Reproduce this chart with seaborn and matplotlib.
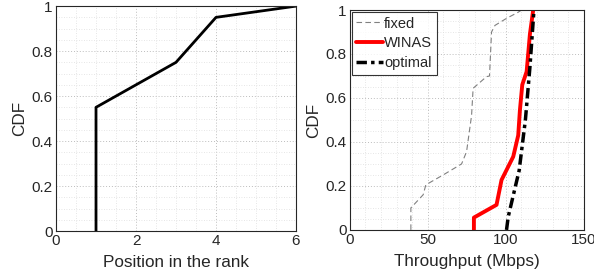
import numpy as np
import pandas as pd
import matplotlib
matplotlib.use("Agg")
import matplotlib.pyplot as plt
import seaborn as sns
from matplotlib.ticker import MultipleLocator, FuncFormatter

# left panel: position in the rank
rank_pos = [1, 1, 3, 4, 6]
rank_cdf = [0, 0.55, 0.75, 0.95, 1.0]

# right panel: throughput CDFs (Mbps)
fixed_tp = [39.1, 39.1, 47, 48.7, 59.8, 71.6, 74.8, 78, 79, 87.6, 89.5, 90.8, 93, 100.4, 107.9, 110]
fixed_cdf = [0, 0.10, 0.16, 0.205, 0.25, 0.30, 0.356, 0.52, 0.644, 0.697, 0.70, 0.90, 0.93, 0.962, 0.99, 1.0]
winas_tp = [79.5, 79.5, 94, 97.2, 104.7, 107.9, 109, 110.5, 113.3, 115.4, 117.5]
winas_cdf = [0, 0.056, 0.114, 0.227, 0.333, 0.43, 0.545, 0.66, 0.72, 0.89, 1.0]
opt_tp = [100.4, 101.5, 108.5, 112.5, 115.4, 117.5, 118]
opt_cdf = [0, 0.06, 0.27, 0.5, 0.74, 0.95, 1.0]

sns.set_style("white")
plt.rcParams['font.family'] = ['Liberation Sans', 'DejaVu Sans']
plt.rcParams['font.size'] = 11

fig = plt.figure(figsize=(5.94, 2.78), dpi=100)
ax1 = fig.add_axes([0.0943, 0.169, 0.404, 0.809])
ax2 = fig.add_axes([0.589, 0.173, 0.394, 0.791])

fmt = FuncFormatter(lambda v, p: f"{v:g}")


def style_axes(ax, xmajor, xminor):
    ax.yaxis.set_major_locator(MultipleLocator(0.2))
    ax.yaxis.set_minor_locator(MultipleLocator(0.05))
    ax.xaxis.set_major_locator(MultipleLocator(xmajor))
    ax.xaxis.set_minor_locator(MultipleLocator(xminor))
    ax.yaxis.set_major_formatter(fmt)
    ax.grid(True, which='major', linestyle=(0, (1, 2)), color='#bdbdbd', linewidth=0.7)
    ax.grid(True, which='minor', linestyle=(0, (1, 2)), color='#dedede', linewidth=0.6)
    ax.tick_params(which='both', direction='in', length=3, labelsize=11, color='#262626', pad=2.5)
    ax.tick_params(which='minor', length=0)
    for s in ax.spines.values():
        s.set_color('#262626')
        s.set_linewidth(0.8)
    ax.set_axisbelow(True)


line_kw = dict(sort=False, estimator=None, errorbar=None)

df_rank = pd.DataFrame({'pos': rank_pos, 'cdf': rank_cdf})
sns.lineplot(data=df_rank, x='pos', y='cdf', color='black', linewidth=2, ax=ax1, **line_kw)
ax1.set_xlim(0, 6)
ax1.set_ylim(0, 1)
style_axes(ax1, 2, 0.5)
ax1.set_xlabel("Position in the rank", fontsize=12.3, labelpad=5)
ax1.set_ylabel("CDF", fontsize=12.3, labelpad=3)

df_fixed = pd.DataFrame({'tp': fixed_tp, 'cdf': fixed_cdf})
df_winas = pd.DataFrame({'tp': winas_tp, 'cdf': winas_cdf})
df_opt = pd.DataFrame({'tp': opt_tp, 'cdf': opt_cdf})
sns.lineplot(data=df_fixed, x='tp', y='cdf', color='#808080', linewidth=0.8,
             linestyle=(0, (5, 3)), label='fixed', ax=ax2, **line_kw)
sns.lineplot(data=df_winas, x='tp', y='cdf', color='#ff0000', linewidth=2.8,
             label='WINAS', ax=ax2, **line_kw)
sns.lineplot(data=df_opt, x='tp', y='cdf', color='black', linewidth=2.5,
             linestyle=(0, (3, 1.2, 1, 1.2)), label='optimal', ax=ax2, **line_kw)
ax2.set_xlim(0, 150)
ax2.set_ylim(0, 1)
style_axes(ax2, 50, 10)
ax2.set_xlabel("Throughput (Mbps)", fontsize=12.3, labelpad=5)
ax2.set_ylabel("CDF", fontsize=12.3, labelpad=3)
leg = ax2.legend(loc='upper left', fontsize=10.5, frameon=True, fancybox=False,
                 edgecolor='black', handlelength=1.85, handletextpad=0.05,
                 borderpad=0.3, labelspacing=0.4, borderaxespad=0.15)
leg.get_frame().set_linewidth(0.8)

fig.savefig("out.png", dpi=100)
